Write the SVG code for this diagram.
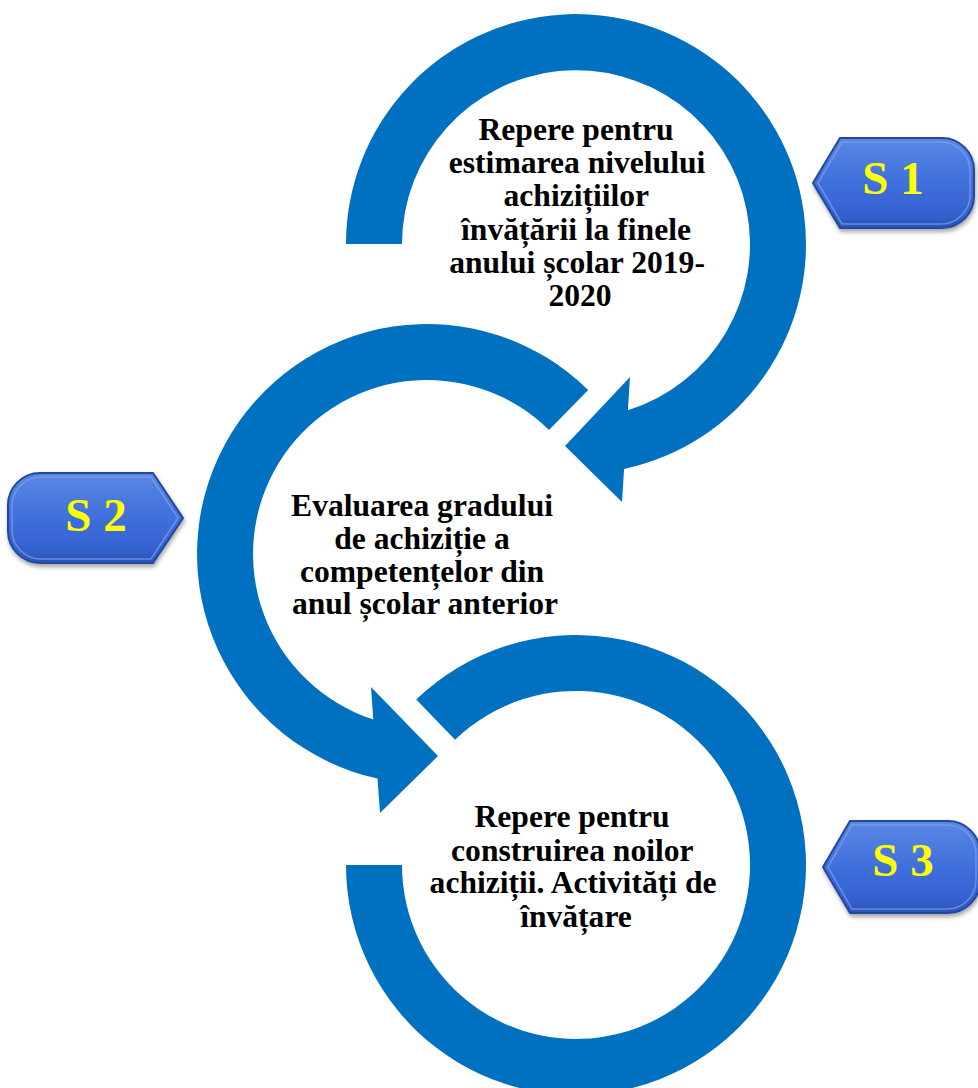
<svg xmlns="http://www.w3.org/2000/svg" width="978" height="1088" viewBox="0 0 978 1088">
  <style>
    .ring { fill: #0070C0; }
    .label { font-family: "Liberation Serif", "Times New Roman", serif; font-weight: bold; font-size: 31.6px; fill: #000; text-anchor: middle; }
    .badge { fill: url(#badgeGrad); stroke: #24489a; stroke-width: 2; filter: url(#shadow); }
    .badge-hl { fill: none; stroke: #7fa3ee; stroke-width: 1.5; opacity: 0.7; }
    .badge-text { font-family: "Liberation Serif", "Times New Roman", serif; font-weight: bold; font-size: 47px; fill: #FFFF00; text-anchor: middle; }
  </style>
  <defs>
    <linearGradient id="badgeGrad" x1="0" y1="0" x2="0" y2="1">
      <stop offset="0" stop-color="#5a88e4"/>
      <stop offset="0.5" stop-color="#3f6fdc"/>
      <stop offset="0.85" stop-color="#3561cf"/>
      <stop offset="1" stop-color="#2a52b4"/>
    </linearGradient>
    <filter id="shadow" x="-10%" y="-10%" width="130%" height="140%">
      <feDropShadow dx="1" dy="3" stdDeviation="2" flood-color="#000" flood-opacity="0.35"/>
    </filter>
  </defs>
  <rect width="978" height="1088" fill="#ffffff"/>

  <g id="connectors">
    <path id="arrow-1" class="ring" d="M 346 244 A 230 230 0 1 1 624.1 469 L 622 502 L 565 446 L 630 377 L 627.9 410.3 A 174 174 0 1 0 402 244 Z"/>
    <path id="arrow-2" class="ring" d="M 588.2 389.9 A 230 230 0 1 0 377.5 778.6 L 380 813 L 438 756 L 371 687 L 373.3 719.5 A 174 174 0 1 1 549 429.9 Z"/>
    <path id="arrow-3" class="ring" d="M 416.2 699.6 A 230 230 0 1 1 346 865 L 402 865 A 174 174 0 1 0 455.1 739.8 Z"/>
  </g>

  <g id="node-1">
    <text class="label">
      <tspan x="580" y="140">Repere pentru</tspan>
      <tspan x="581" y="173">estimarea nivelului</tspan>
      <tspan x="580" y="206">achizițiilor</tspan>
      <tspan x="580" y="240">învățării la finele</tspan>
      <tspan x="581" y="273">anului școlar 2019-</tspan>
      <tspan x="580" y="306">2020</tspan>
    </text>
  </g>

  <g id="node-2">
    <text class="label">
      <tspan x="426" y="516">Evaluarea gradului</tspan>
      <tspan x="426" y="549">de achiziție a</tspan>
      <tspan x="426" y="582">competențelor din</tspan>
      <tspan x="425" y="614">anul școlar anterior</tspan>
    </text>
  </g>

  <g id="node-3">
    <text class="label">
      <tspan x="576" y="827">Repere pentru</tspan>
      <tspan x="576" y="861">construirea noilor</tspan>
      <tspan x="577" y="893">achiziții. Activități de</tspan>
      <tspan x="576" y="927">învățare</tspan>
    </text>
  </g>

  <g id="badge-s1">
    <path class="badge" d="M 840 138 L 813 183 L 840 228 L 942 228 A 32 32 0 0 0 974 196 L 974 170 A 32 32 0 0 0 942 138 Z"/>
    <path class="badge-hl" d="M 842 142 L 818 183 L 842 224 L 941 224 A 29 29 0 0 0 970 195 L 970 171 A 29 29 0 0 0 941 142 Z"/>
    <text class="badge-text" x="893" y="194">S 1</text>
  </g>

  <g id="badge-s2">
    <path class="badge" d="M 153 473 L 183 518 L 153 563 L 40 563 A 32 32 0 0 1 8 531 L 8 505 A 32 32 0 0 1 40 473 Z"/>
    <path class="badge-hl" d="M 151 477 L 178 518 L 151 559 L 41 559 A 29 29 0 0 1 12 530 L 12 506 A 29 29 0 0 1 41 477 Z"/>
    <text class="badge-text" x="96" y="531">S 2</text>
  </g>

  <g id="badge-s3">
    <path class="badge" d="M 850 821 L 823 867 L 850 913 L 948 913 A 32 32 0 0 0 980 881 L 980 853 A 32 32 0 0 0 948 821 Z"/>
    <path class="badge-hl" d="M 852 825 L 828 867 L 852 909 L 947 909 A 29 29 0 0 0 976 880 L 976 854 A 29 29 0 0 0 947 825 Z"/>
    <text class="badge-text" x="903" y="876">S 3</text>
  </g>
</svg>
